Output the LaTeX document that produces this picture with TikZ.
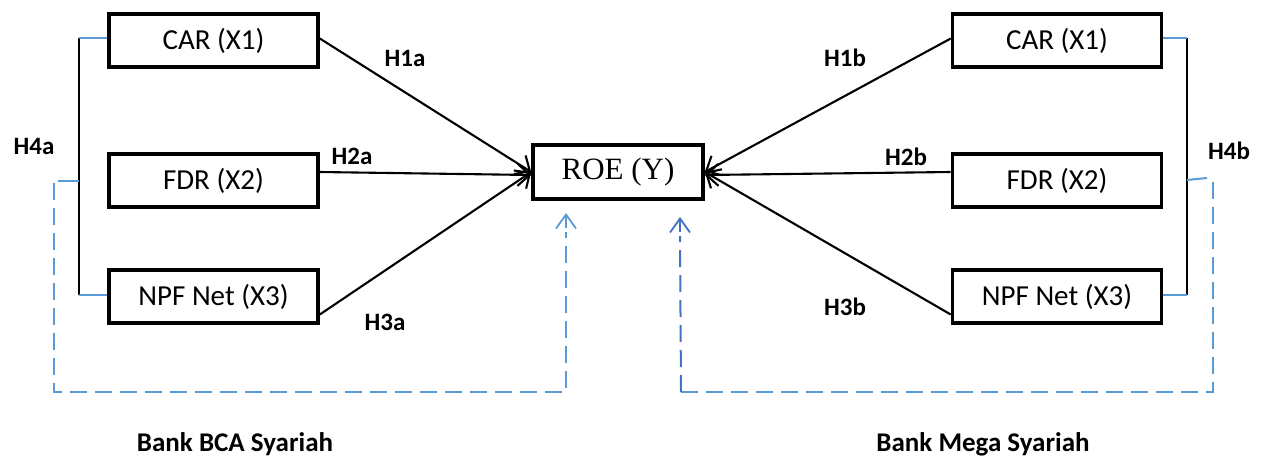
\documentclass[tikz,border=0pt]{standalone}
\usepackage{fontspec}
\setmainfont{Carlito}
\newfontfamily\roefont{Liberation Serif}
\usetikzlibrary{arrows.meta}
\definecolor{lblue}{HTML}{5B9BD5}
\definecolor{dblue}{HTML}{4472C4}
\begin{document}
\begin{tikzpicture}[x=1pt,y=-1pt,
  box/.style={draw, line width=3.6pt, minimum width=209pt, minimum height=53pt, inner sep=0pt, font=\fontsize{29}{30}\selectfont},
  roebox/.style={draw, line width=3.6pt, minimum width=170pt, minimum height=54pt, inner sep=0pt, font=\roefont\fontsize{31}{34}\selectfont},
  arr/.style={line width=2.1pt, -{Straight Barb[length=12pt,width=22pt,line width=2.1pt]}},
  hlab/.style={font=\bfseries\fontsize{25}{28}\selectfont},
  banklab/.style={font=\bfseries\fontsize{27}{30}\selectfont},
  brack/.style={line width=2pt, black},
  bluel/.style={line width=1.4pt, lblue},
  dashline/.style={line width=2pt, dash pattern=on 17pt off 8pt},
  darr/.style={-{Straight Barb[length=14pt,width=20pt,line width=1.8pt]}}
]
\useasboundingbox (0,0) rectangle (1266,458);

% boxes
\node[box] (carL) at (213.5,40.5) {CAR (X1)};
\node[box] (fdrL) at (213.5,180.5) {FDR (X2)};
\node[box] (npfL) at (213.5,296.5) {NPF Net (X3)};
\node[box] (carR) at (1057,40.5) {CAR (X1)};
\node[box] (fdrR) at (1057,180.5) {FDR (X2)};
\node[box] (npfR) at (1057,296.5) {NPF Net (X3)};
\node[roebox] (roe) at (618,172) {ROE (Y)};

% solid arrows
\draw[arr] ([yshift=2pt]carL.east) -- (roe.west);
\draw[arr] (fdrL.east |- roe.west) -- ([yshift=-3pt]roe.west);
\draw[arr] ([yshift=-18pt]npfL.east) -- (roe.west);
\draw[arr] ([yshift=2pt]carR.west) -- (roe.east);
\draw[arr] (fdrR.west |- roe.west) -- ([yshift=-3pt]roe.east);
\draw[arr] ([yshift=-18pt]npfR.west) -- (roe.east);

% hypothesis labels
\node[hlab] (h1a) at (405,58) {H1a};
\node[hlab] (h2a) at (352,156) {H2a};
\node[hlab] (h3a) at (385,322) {H3a};
\node[hlab] (h4a) at (34,146) {H4a};
\node[hlab] (h1b) at (845,58) {H1b};
\node[hlab] (h2b) at (906,157) {H2b};
\node[hlab] (h3b) at (845,307) {H3b};
\node[hlab] (h4b) at (1229,151) {H4b};

% left bracket
\coordinate (lt) at (79,38);
\coordinate (lb) at (79,295);
\coordinate (lm) at (79,181);
\coordinate (lm2) at (58,181);
\draw[brack] (lt) -- (lb);
\draw[bluel] (lt) -- (carL.west |- lt);
\draw[bluel] (lb) -- (npfL.west |- lb);
\draw[bluel, line width=2pt] (lm) -- (lm2);

% right bracket
\coordinate (rt) at (1187,38);
\coordinate (rb) at (1187,295);
\coordinate (rm) at (1187,180);
\coordinate (rm2) at (1207,178);
\draw[brack] (rt) -- (rb);
\draw[bluel] (rt) -- (carR.east |- rt);
\draw[bluel] (rb) -- (npfR.east |- rb);
\draw[bluel, line width=2pt] (rm) -- (rm2);

% dashed feedback paths
\coordinate (ls) at (54,183);
\coordinate (lc1) at (54,392);
\coordinate (lc2) at (566,392);
\coordinate (ltip) at (566,213);
\draw[lblue, dashline] (ls) -- (lc1) -- (lc2) -- (566,232);
\draw[lblue, line width=2pt, darr] (566,228) -- (ltip);

\coordinate (rs) at (1213,182);
\coordinate (rc1) at (1213,392);
\coordinate (rc2) at (681,392);
\coordinate (rtip) at (680,217);
\draw[lblue, dashline] (rs) -- (rc1) -- (rc2);
\draw[dblue, dashline] (rc2) -- (680,236);
\draw[dblue, line width=2pt, darr] (680,232) -- (rtip);

% bank labels
\node[banklab] (bca) at (235,444) {Bank BCA Syariah};
\node[banklab] (mega) at (983,444) {Bank Mega Syariah};
\end{tikzpicture}
\end{document}
